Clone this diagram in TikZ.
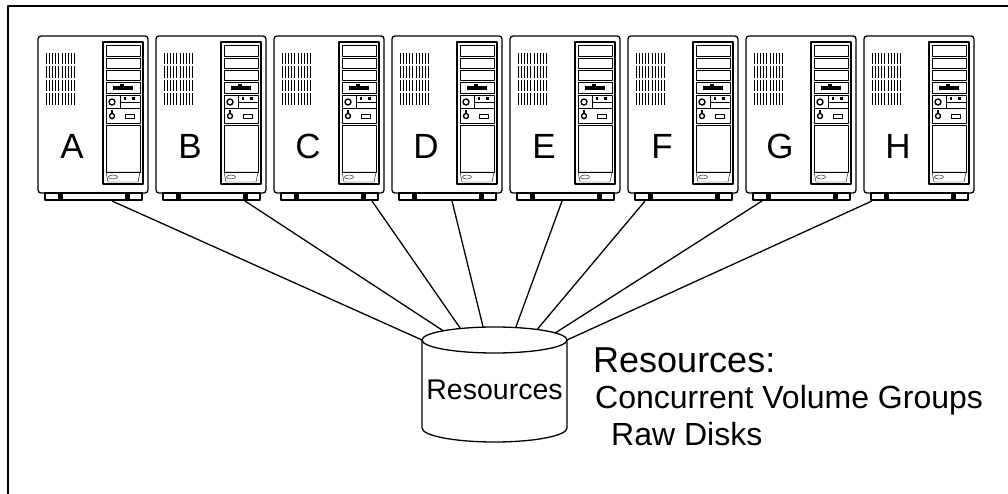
\documentclass[tikz,border=0pt]{standalone}
\usepackage{fontspec}
\setsansfont{Liberation Sans}

\begin{document}
\begin{tikzpicture}[x=1pt, y=-1pt, line join=round,
  box/.style = {draw, line width=1.3pt},
  cable/.style = {draw, line width=1.3pt},
  letter/.style = {font=\sffamily\fontsize{35}{40}\selectfont},
  caption/.style = {anchor=base west, inner sep=0pt,
    font=\sffamily\fontsize{32}{36}\selectfont}]
  \useasboundingbox (0,0) rectangle (1008,494);
  % frame
  \draw[line width=2pt] (8,494) -- (8,6) -- (1008,6);
  % the eight towers
  \foreach \name/\port [count=\i from 0] in {A/74,B/89,C/98,D/60,E/52,F/17,G/16,H/8} {
    \begin{scope}[shift={(38+118*\i,36)}]
      \draw[box, rounded corners=3pt] (0,0) rectangle (110,157);
      \draw[line width=1.1pt] (7,157) rectangle (104,164);
      \fill (20,157) rectangle (25,164);
      \fill (87,157) rectangle (92,164);
      % vent
      \foreach \r in {0,...,3}
        \foreach \v in {0,...,9}
          \draw[line width=1pt] (8+3.2*\v,17+13.5*\r) -- ++(0,11.5);
      % drive column
      \draw[line width=2pt] (65,6) rectangle (105,148);
      \draw (68,9) rectangle (102,20);
      \draw (68,22) rectangle (102,32);
      \draw (68,34) rectangle (102,44);
      \draw (68,46) rectangle (102,57);
      \fill (75,50) rectangle (95,54);
      \fill (82,48) rectangle (86,50);
      \draw (68,59) rectangle (102,72);
      \draw (82,59) -- (82,72) (82,66) -- (102,66);
      \draw[line width=1.4pt] (74,66) circle[radius=3];
      \fill (86,61) rectangle (88,64);
      \fill (94,61) rectangle (97,64);
      \draw (68,72) rectangle (102,87);
      \draw[line width=1.4pt] (74,80) circle[radius=2.5];
      \fill (73,74) rectangle (75,78);
      \draw (87,78) rectangle (96,82);
      \draw (68,89) rectangle (102,136);
      \draw (68,136) -- (102,136) -- (100,146) -- (70,146) -- cycle;
      \draw (75,141) ellipse[x radius=4.5, y radius=2];
      \node[letter] (srv\name) at (34,110) {\name};
      \coordinate (port\name) at (\port,165);
    \end{scope}
  }
  % shared disk
  \foreach \name/\a in {A/180,B/135,C/118,D/99,E/73,F/54,G/33,H/0}
    \coordinate (disk\name) at ({494.5+72.5*cos(\a)},{340-13*sin(\a)});
  \foreach \name in {A,...,H}
    \draw[cable] (port\name) -- (disk\name);
  \draw[box] (422,340) -- (422,428) arc[start angle=180, end angle=0,
    x radius=72.5, y radius=14] -- (567,340);
  \draw[box] (494.5,340) ellipse[x radius=72.5, y radius=13];
  \node[font=\sffamily\fontsize{28.5}{32}\selectfont] (res) at (494.5,390) {Resources};
  % legend
  \node[caption, font=\sffamily\fontsize{36}{40}\selectfont] (head) at (593,372) {Resources:};
  \node[caption] (cvg) at (595,408) {Concurrent Volume Groups};
  \node[caption] (raw) at (611,445) {Raw Disks};
\end{tikzpicture}
\end{document}
